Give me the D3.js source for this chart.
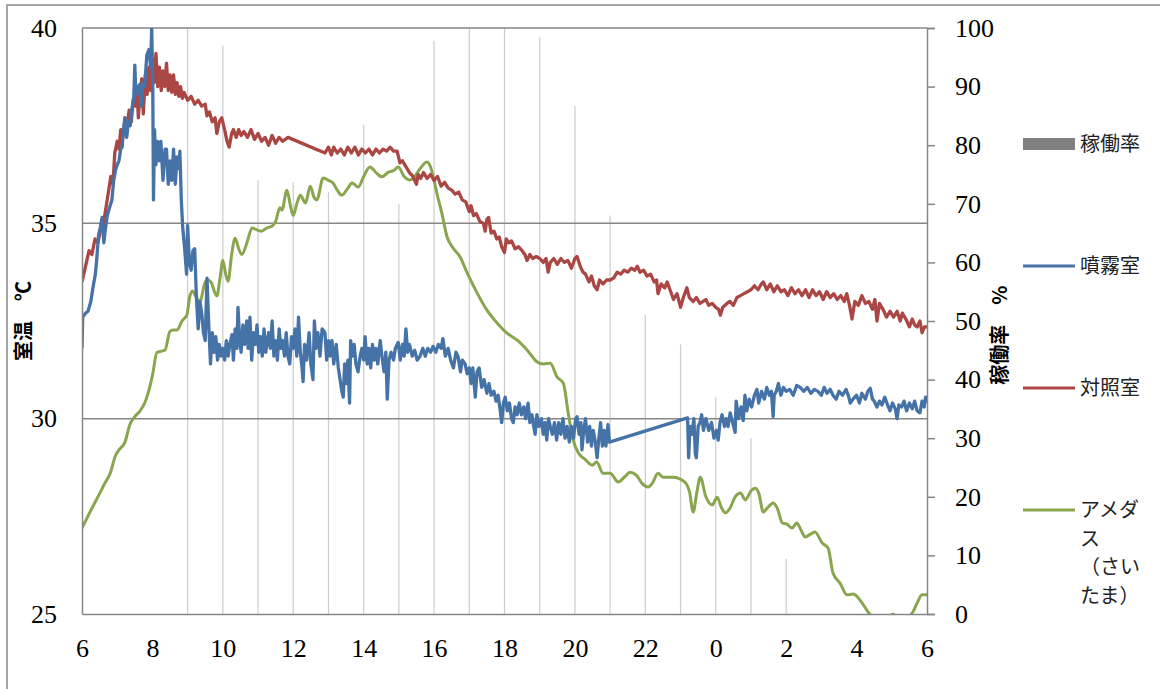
<!DOCTYPE html>
<html>
<head>
<meta charset="utf-8">
<script src="https://cdn.jsdelivr.net/npm/d3@7"></script>
<style>
  body { margin: 0; background: #fff; }
  svg { display: block; }
</style>
</head>
<body>
<svg width="1160" height="689"></svg>
<script>
// hours run 6 .. 30 (next morning 6)
var xTicks = [6, 8, 10, 12, 14, 16, 18, 20, 22, 24, 26, 28, 30];
var leftTicks = [25, 30, 35, 40];
var rightTicks = [0, 10, 20, 30, 40, 50, 60, 70, 80, 90, 100];

// 稼働率 (%) per hour
var rateHours = [9, 10, 11, 12, 13, 14, 15, 16, 17, 18, 19, 20, 21, 22, 23, 24, 25, 26];
var rateValues = [100, 97, 74, 73.7, 72, 83.5, 70, 97.8, 100, 100, 98.5, 86.7, 68, 51, 46, 37, 30, 9.4];

// 対照室 (°C)
var control = [[6.0,33.5],[6.1,33.9],[6.2,34.3],[6.28,34.2],[6.37,34.6],[6.45,34.5],[6.52,34.8],[6.6,34.95],[6.68,35.4],[6.75,35.8],[6.82,36.2],[6.88,36.0],[6.93,36.8],[7.0,37.1],[7.05,36.9],[7.1,37.4],[7.16,37.2],[7.22,37.7],[7.28,37.5],[7.34,37.9],[7.4,37.6],[7.46,38.2],[7.52,38.0],[7.56,38.5],[7.6,37.7],[7.65,38.4],[7.7,38.7],[7.74,37.8],[7.8,38.8],[7.85,38.3],[7.9,39.0],[7.95,38.4],[8.0,39.2],[8.05,38.6],[8.1,39.35],[8.15,38.5],[8.2,39.0],[8.25,38.4],[8.3,38.9],[8.35,38.5],[8.4,39.1],[8.45,38.4],[8.5,38.8],[8.55,38.35],[8.6,38.8],[8.65,38.3],[8.7,38.6],[8.75,38.25],[8.8,38.5],[8.85,38.2],[8.9,38.35],[9.0,38.15],[9.1,38.25],[9.2,38.05],[9.3,38.15],[9.4,38.0],[9.5,38.05],[9.55,37.75],[9.62,37.85],[9.7,37.6],[9.78,37.7],[9.83,37.3],[9.9,37.6],[9.97,37.7],[10.05,37.4],[10.12,37.1],[10.18,36.95],[10.25,37.3],[10.3,37.4],[10.38,37.2],[10.45,37.4],[10.52,37.25],[10.6,37.35],[10.7,37.2],[10.8,37.4],[10.9,37.15],[11.0,37.3],[11.1,37.1],[11.2,37.2],[11.3,37.0],[11.4,37.25],[11.5,37.05],[11.6,37.2],[11.7,37.1],[11.85,37.2],
  [12.9,36.8],[13.0,36.95],[13.08,36.75],[13.15,36.95],[13.25,36.8],[13.35,36.9],[13.45,36.75],[13.55,36.95],[13.65,36.8],[13.75,36.95],[13.85,36.75],[13.95,36.9],[14.05,36.8],[14.15,36.9],[14.25,36.75],[14.35,36.9],[14.45,36.8],[14.55,36.9],[14.65,36.85],[14.75,36.95],[14.85,36.85],[14.95,36.85],[15.03,36.55],[15.1,36.6],[15.2,36.45],[15.3,36.3],[15.4,36.2],[15.5,36.0],[15.55,36.25],[15.62,36.15],[15.7,36.3],[15.8,36.15],[15.9,36.25],[16.0,36.1],[16.1,36.2],[16.2,35.95],[16.3,36.05],[16.4,35.9],[16.5,35.85],[16.6,35.75],[16.7,35.8],[16.8,35.6],[16.9,35.55],[17.0,35.3],[17.05,35.45],[17.12,35.2],[17.2,35.25],[17.3,35.05],[17.4,35.0],[17.45,34.8],[17.5,35.1],[17.55,35.15],[17.62,34.75],[17.7,34.8],[17.78,34.6],[17.85,34.65],[17.92,34.4],[18.0,34.25],[18.05,34.6],[18.12,34.5],[18.2,34.55],[18.3,34.35],[18.4,34.4],[18.5,34.3],[18.58,34.2],[18.64,34.05],[18.72,34.2],[18.8,34.1],[18.9,34.15],[19.0,34.1],[19.1,34.0],[19.18,34.1],[19.24,33.75],[19.3,34.0],[19.4,34.1],[19.5,33.95],[19.6,34.1],[19.7,34.0],[19.8,34.05],[19.9,33.85],[20.0,34.1],[20.06,34.15],[20.15,33.9],[20.23,33.75],[20.3,33.7],[20.4,33.5],[20.47,33.65],[20.55,33.4],[20.63,33.3],[20.7,33.55],[20.8,33.45],[20.9,33.55],[21.0,33.55],[21.1,33.6],[21.2,33.75],[21.3,33.7],[21.4,33.8],[21.5,33.75],[21.6,33.85],[21.7,33.8],[21.77,33.9],[21.85,33.75],[21.95,33.8],[22.05,33.65],[22.15,33.7],[22.25,33.5],[22.32,33.55],[22.36,33.2],[22.45,33.45],[22.55,33.35],[22.62,33.5],[22.7,33.3],[22.8,33.05],[22.9,33.2],[23.0,32.85],[23.08,33.1],[23.18,33.35],[23.25,33.1],[23.36,33.0],[23.45,33.1],[23.55,32.95],[23.64,33.0],[23.72,33.05],[23.8,32.9],[23.9,32.95],[24.0,32.85],[24.08,32.8],[24.13,32.65],[24.2,32.85],[24.32,32.95],[24.4,33.0],[24.5,32.9],[24.6,33.1],[24.7,33.15],[24.8,33.2],[24.9,33.25],[25.0,33.3],[25.1,33.4],[25.2,33.3],[25.3,33.45],[25.35,33.5],[25.45,33.3],[25.55,33.45],[25.65,33.25],[25.75,33.4],[25.85,33.25],[25.95,33.3],[26.05,33.15],[26.15,33.35],[26.25,33.2],[26.35,33.3],[26.45,33.15],[26.55,33.3],[26.65,33.1],[26.75,33.3],[26.85,33.15],[26.95,33.25],[27.05,33.05],[27.15,33.25],[27.25,33.1],[27.35,33.2],[27.45,33.05],[27.55,33.15],[27.65,33.0],[27.72,33.2],[27.8,32.9],[27.87,32.55],[27.95,33.0],[28.05,32.9],[28.15,33.15],[28.25,32.95],[28.35,33.0],[28.45,32.8],[28.52,33.05],[28.58,32.5],[28.65,32.95],[28.75,32.8],[28.85,32.6],[28.95,32.75],[29.05,32.6],[29.15,32.75],[29.24,32.5],[29.3,32.7],[29.4,32.55],[29.5,32.35],[29.58,32.55],[29.65,32.4],[29.72,32.35],[29.8,32.5],[29.86,32.2],[29.93,32.35],[30.0,32.35]];

// 噴霧室 (°C)
var spray = [[6.0,31.8],[6.02,32.6],[6.1,32.7],[6.17,32.75],[6.25,33.0],[6.32,33.4],[6.38,33.7],[6.42,34.1],[6.47,34.7],[6.52,34.9],[6.57,35.15],[6.62,34.5],[6.67,34.9],[6.72,35.2],[6.78,35.4],[6.85,35.6],[6.9,36.1],[6.95,36.35],[7.0,36.5],[7.05,36.6],[7.1,36.9],[7.14,36.95],[7.18,37.4],[7.22,37.7],[7.27,37.2],[7.32,37.6],[7.37,37.5],[7.42,37.95],[7.47,38.2],[7.5,39.05],[7.53,38.3],[7.58,38.4],[7.63,38.55],[7.68,38.0],[7.73,38.6],[7.78,38.5],[7.84,39.3],[7.9,39.45],[7.95,39.0],[7.98,40.0],[8.01,38.5],[8.03,35.6],[8.06,37.4],[8.1,36.5],[8.15,37.1],[8.2,36.6],[8.24,37.1],[8.3,36.1],[8.36,36.9],[8.4,36.9],[8.45,36.0],[8.5,36.6],[8.55,36.1],[8.6,36.9],[8.65,36.0],[8.7,36.7],[8.75,36.4],[8.78,36.85],[8.82,35.6],[8.86,34.9],[8.92,34.3],[8.97,33.7],[9.0,34.95],[9.05,34.0],[9.1,33.8],[9.15,34.3],[9.2,34.35],[9.25,33.1],[9.3,32.3],[9.35,33.0],[9.4,32.7],[9.45,32.2],[9.5,32.0],[9.55,33.6],[9.6,32.4],[9.65,31.4],[9.7,32.2],[9.75,31.7],[9.8,32.1],[9.85,31.5],[9.9,31.9],[9.95,31.6],[10.0,31.8],[10.05,31.5],[10.1,32.0],[10.15,31.6],[10.2,31.9],[10.26,32.15],[10.3,31.5],[10.35,32.3],[10.4,31.8],[10.43,32.85],[10.48,32.0],[10.52,31.7],[10.57,32.4],[10.62,31.9],[10.68,32.5],[10.72,31.8],[10.77,32.6],[10.82,31.5],[10.87,32.2],[10.92,31.9],[10.97,32.4],[11.02,31.7],[11.07,32.1],[11.12,31.6],[11.17,32.3],[11.22,31.7],[11.3,32.2],[11.35,31.8],[11.4,32.5],[11.45,31.6],[11.5,32.0],[11.55,31.5],[11.6,32.3],[11.65,31.8],[11.7,32.0],[11.75,31.6],[11.8,32.2],[11.85,31.6],[11.9,31.4],[11.95,32.1],[12.0,31.8],[12.05,32.3],[12.1,31.6],[12.15,32.6],[12.2,31.7],[12.25,31.3],[12.28,30.95],[12.32,31.9],[12.38,31.5],[12.45,32.2],[12.5,31.4],[12.56,31.0],[12.6,32.5],[12.65,31.8],[12.7,32.2],[12.76,31.6],[12.82,32.3],[12.9,32.2],[12.95,31.5],[13.0,32.0],[13.05,31.6],[13.1,32.0],[13.15,31.4],[13.22,31.9],[13.28,31.3],[13.33,31.0],[13.38,30.7],[13.42,30.55],[13.46,31.4],[13.5,30.9],[13.55,31.5],[13.6,30.4],[13.63,32.0],[13.68,31.6],[13.73,31.9],[13.78,31.4],[13.84,31.2],[13.9,31.6],[13.95,31.8],[14.0,31.5],[14.04,32.1],[14.1,31.4],[14.15,31.8],[14.2,31.3],[14.25,31.9],[14.3,31.5],[14.35,31.8],[14.4,31.4],[14.47,32.0],[14.52,31.6],[14.58,31.2],[14.63,31.7],[14.67,30.5],[14.72,31.5],[14.78,31.7],[14.85,31.5],[14.9,31.8],[14.98,31.95],[15.04,31.5],[15.1,31.9],[15.15,31.6],[15.2,32.3],[15.25,31.7],[15.3,31.9],[15.38,31.6],[15.45,31.75],[15.52,31.5],[15.6,31.6],[15.68,31.8],[15.75,31.6],[15.82,31.8],[15.9,31.7],[15.97,31.85],[16.05,31.7],[16.12,31.9],[16.2,31.8],[16.25,32.05],[16.32,31.6],[16.4,31.8],[16.47,31.5],[16.55,31.3],[16.62,31.7],[16.68,31.6],[16.75,31.2],[16.8,31.5],[16.88,31.4],[16.94,31.15],[17.0,31.3],[17.05,30.9],[17.1,31.3],[17.17,30.55],[17.22,31.2],[17.28,31.3],[17.35,30.8],[17.42,31.0],[17.5,30.65],[17.56,30.9],[17.62,30.6],[17.7,30.7],[17.76,30.45],[17.82,30.6],[17.88,30.2],[17.92,29.9],[17.97,30.4],[18.02,30.55],[18.08,30.2],[18.14,30.4],[18.2,30.0],[18.25,29.9],[18.3,30.3],[18.36,30.1],[18.42,30.4],[18.48,30.1],[18.55,30.3],[18.6,30.0],[18.67,30.4],[18.72,29.9],[18.78,30.1],[18.83,29.8],[18.87,29.6],[18.92,30.1],[18.98,29.8],[19.05,30.0],[19.1,29.6],[19.15,29.9],[19.2,29.45],[19.25,30.0],[19.3,29.8],[19.36,29.6],[19.42,29.9],[19.48,29.45],[19.54,29.9],[19.6,29.6],[19.66,30.0],[19.72,29.5],[19.78,29.8],[19.84,29.4],[19.9,29.8],[19.96,29.5],[20.02,30.0],[20.06,30.05],[20.12,29.6],[20.17,29.9],[20.2,29.2],[20.25,29.7],[20.3,30.0],[20.36,29.4],[20.42,29.8],[20.47,29.3],[20.52,29.7],[20.58,29.4],[20.63,29.0],[20.68,29.5],[20.73,29.9],[20.78,29.3],[20.83,29.7],[20.88,29.3],[20.94,29.85],[20.98,29.4],
  [23.2,30.02],[23.23,29.0],[23.27,29.8],[23.32,29.6],[23.38,30.0],[23.42,29.1],[23.45,29.0],[23.5,29.8],[23.55,29.9],[23.6,30.1],[23.65,29.7],[23.72,30.0],[23.8,29.7],[23.88,29.9],[23.95,29.5],[24.02,29.7],[24.07,29.45],[24.12,29.9],[24.18,30.1],[24.25,29.8],[24.3,30.0],[24.35,29.8],[24.41,30.15],[24.48,29.9],[24.55,29.65],[24.58,30.45],[24.65,30.0],[24.72,30.3],[24.78,29.95],[24.83,30.6],[24.88,30.2],[24.95,30.5],[25.02,30.3],[25.1,30.6],[25.17,30.75],[25.22,30.4],[25.3,30.7],[25.38,30.5],[25.45,30.8],[25.52,30.6],[25.58,30.7],[25.63,30.05],[25.66,30.6],[25.72,30.7],[25.78,30.9],[25.85,30.6],[25.92,30.8],[26.0,30.7],[26.1,30.75],[26.2,30.6],[26.3,30.85],[26.4,30.8],[26.5,30.7],[26.6,30.8],[26.7,30.65],[26.8,30.75],[26.9,30.7],[27.0,30.6],[27.08,30.8],[27.16,30.65],[27.25,30.75],[27.33,30.6],[27.42,30.5],[27.5,30.7],[27.6,30.6],[27.7,30.75],[27.78,30.55],[27.82,30.4],[27.9,30.5],[28.0,30.6],[28.08,30.4],[28.15,30.65],[28.25,30.5],[28.32,30.7],[28.39,30.78],[28.45,30.5],[28.5,30.45],[28.58,30.3],[28.65,30.45],[28.72,30.35],[28.8,30.55],[28.88,30.35],[28.95,30.2],[29.02,30.4],[29.1,30.25],[29.15,30.0],[29.2,30.35],[29.28,30.3],[29.35,30.45],[29.42,30.2],[29.5,30.4],[29.58,30.25],[29.65,30.45],[29.72,30.2],[29.8,30.15],[29.86,30.45],[29.92,30.3],[29.96,30.55],[30.0,30.4]];

// アメダス（さいたま） (°C)
var amedas = [[6.0,27.2],[6.25,27.65],[6.51,28.1],[6.65,28.35],[6.8,28.6],[6.95,29.05],[7.05,29.2],[7.22,29.4],[7.36,29.85],[7.5,30.05],[7.65,30.2],[7.78,30.4],[7.88,30.66],[8.0,31.1],[8.13,31.7],[8.22,31.72],[8.36,31.76],[8.5,32.24],[8.6,32.27],[8.7,32.27],[8.84,32.5],[8.98,32.66],[9.07,33.16],[9.15,33.27],[9.22,33.15],[9.35,33.0],[9.5,33.5],[9.58,33.55],[9.66,33.5],[9.83,33.14],[9.92,33.6],[10.0,34.05],[10.08,33.7],[10.15,33.52],[10.25,34.2],[10.35,34.62],[10.45,34.35],[10.54,34.2],[10.7,34.55],[10.83,34.88],[11.0,34.82],[11.1,34.8],[11.25,34.88],[11.4,34.93],[11.5,35.05],[11.62,35.4],[11.68,35.34],[11.82,35.85],[11.92,35.45],[12.0,35.2],[12.1,35.5],[12.2,35.72],[12.35,35.52],[12.48,35.95],[12.6,35.65],[12.67,35.6],[12.85,36.16],[13.0,36.1],[13.13,36.03],[13.25,35.85],[13.38,35.72],[13.55,35.9],[13.67,36.03],[13.85,35.93],[14.0,36.2],[14.18,36.44],[14.35,36.3],[14.52,36.19],[14.7,36.31],[14.85,36.35],[14.98,36.44],[15.15,36.2],[15.32,36.11],[15.45,36.2],[15.6,36.4],[15.8,36.57],[15.9,36.44],[16.0,36.1],[16.08,35.77],[16.22,35.26],[16.37,34.65],[16.54,34.37],[16.74,34.14],[16.94,33.73],[17.22,33.22],[17.5,32.78],[17.79,32.45],[18.07,32.19],[18.36,32.01],[18.64,31.76],[18.93,31.45],[19.1,31.4],[19.3,31.42],[19.49,31.07],[19.67,30.91],[19.81,30.14],[19.95,29.45],[20.1,29.12],[20.3,28.95],[20.49,28.81],[20.62,28.89],[20.8,28.6],[21.0,28.6],[21.23,28.38],[21.4,28.5],[21.57,28.63],[21.75,28.55],[21.9,28.35],[22.08,28.25],[22.2,28.35],[22.36,28.6],[22.5,28.5],[22.8,28.5],[23.0,28.45],[23.15,28.35],[23.25,28.15],[23.36,27.61],[23.46,28.1],[23.56,28.5],[23.72,28.0],[23.9,27.79],[24.04,27.99],[24.15,27.75],[24.27,27.59],[24.4,27.7],[24.55,28.0],[24.7,28.1],[24.84,27.92],[25.0,28.15],[25.12,28.22],[25.22,28.1],[25.35,27.61],[25.5,27.75],[25.63,27.84],[25.75,27.7],[25.89,27.33],[26.02,27.3],[26.17,27.2],[26.3,27.33],[26.42,27.15],[26.54,26.97],[26.7,27.05],[26.82,27.1],[27.02,26.82],[27.19,26.69],[27.33,26.05],[27.53,25.79],[27.73,25.49],[27.9,25.51],[28.16,25.28],[28.33,25.05],[28.47,24.9],[28.65,24.7],[28.85,24.85],[29.04,25.0],[29.2,24.8],[29.45,24.9],[29.6,25.05],[29.72,25.28],[29.86,25.49],[30.0,25.49]];

var svg = d3.select("svg");

var margin = {top: 28, left: 82},
    width = 927 - 82,
    height = 614 - 28;

var x = d3.scaleLinear().domain([6, 30]).range([0, width]);
var yL = d3.scaleLinear().domain([25, 40]).range([height, 0]);
var yR = d3.scaleLinear().domain([0, 100]).range([height, 0]);

var axisGray = "#868686";
var numFont = "'Liberation Serif', 'Times New Roman', serif";
var jpFont = "'Noto Sans CJK JP', 'Noto Sans', sans-serif";

//outer chart frame (runs past the picture on the right and bottom)
svg.append("rect")
    .attr("x", 7).attr("y", 5)
    .attr("width", 1200).attr("height", 720)
    .attr("fill", "none")
    .attr("stroke", "#a6a6a6")
    .attr("stroke-width", 2);

var g = svg.append("g")
    .attr("transform", "translate(" + margin.left + "," + margin.top + ")");

g.append("clipPath").attr("id", "plot")
    .append("rect").attr("width", width).attr("height", height);

//稼働率 bars, thin because the data are per-minute categories
g.selectAll(".bar")
    .data(rateHours)
    .enter().append("rect")
    .attr("class", "bar")
    .attr("x", function(d) { return x(d) - 0.6; })
    .attr("y", function(d, i) { return yR(rateValues[i]); })
    .attr("width", 1.2)
    .attr("height", function(d, i) { return height - yR(rateValues[i]); })
    .attr("fill", "#cccccc");

//horizontal gridlines at 30 and 35, plus the top edge
g.selectAll(".grid")
    .data([30, 35, 40])
    .enter().append("line")
    .attr("x1", 0).attr("x2", width)
    .attr("y1", function(d) { return yL(d); })
    .attr("y2", function(d) { return yL(d); })
    .attr("stroke", axisGray)
    .attr("stroke-width", 1.5);

var line = d3.line()
    .x(function(d) { return x(d[0]); })
    .y(function(d) { return yL(d[1]); });

var smooth = d3.line()
    .curve(d3.curveMonotoneX)
    .x(function(d) { return x(d[0]); })
    .y(function(d) { return yL(d[1]); });

var lines = g.append("g").attr("clip-path", "url(#plot)");

lines.append("path").datum(amedas)
    .attr("d", smooth)
    .attr("fill", "none")
    .attr("stroke", "#89A54E")
    .attr("stroke-width", 3);

lines.append("path").datum(control)
    .attr("d", line)
    .attr("fill", "none")
    .attr("stroke", "#AA4643")
    .attr("stroke-width", 3.3)
    .attr("stroke-linejoin", "round");

lines.append("path").datum(spray)
    .attr("d", line)
    .attr("fill", "none")
    .attr("stroke", "#4572A7")
    .attr("stroke-width", 3.3)
    .attr("stroke-linejoin", "round");

//axes
var left = g.append("g")
    .call(d3.axisLeft(yL).tickValues(leftTicks).tickSize(0).tickPadding(25));

var right = g.append("g")
    .attr("transform", "translate(" + width + ",0)")
    .call(d3.axisRight(yR).tickValues(rightTicks).tickSize(8).tickPadding(20));

var bottom = g.append("g")
    .attr("transform", "translate(0," + height + ")")
    .call(d3.axisBottom(x).tickValues(xTicks).tickSize(0).tickPadding(25)
          .tickFormat(function(d) { return d % 24; }));

[left, right, bottom].forEach(function(a) {
    a.select(".domain").attr("stroke", axisGray).attr("stroke-width", 1.5);
    a.selectAll(".tick line").attr("stroke", axisGray).attr("stroke-width", 1.5);
    a.selectAll("text")
	.attr("font-family", numFont)
	.attr("font-size", 26)
	.attr("fill", "#000");
});

//axis titles
svg.append("text")
    .attr("transform", "translate(31,321) rotate(-90)")
    .attr("text-anchor", "middle")
    .attr("font-family", jpFont)
    .attr("font-weight", "bold")
    .attr("font-size", 20)
    .text("室温　℃");

svg.append("text")
    .attr("transform", "translate(1007,335) rotate(-90)")
    .attr("text-anchor", "middle")
    .attr("font-family", jpFont)
    .attr("font-weight", "bold")
    .attr("font-size", 20)
    .text("稼働率　%");

//legend
var legend = svg.append("g").attr("font-family", jpFont).attr("font-size", 20);

legend.append("rect")
    .attr("x", 1023).attr("y", 138)
    .attr("width", 52).attr("height", 12)
    .attr("fill", "#808080");

var legendItems = [
    {y: 266, color: "#4572A7", lines: ["噴霧室"]},
    {y: 388, color: "#AA4643", lines: ["対照室"]},
    {y: 510, color: "#89A54E", lines: ["アメダ", "ス", "（さい", "たま）"]}
];

legend.append("text")
    .attr("x", 1080).attr("y", 151)
    .attr("fill", "#222")
    .text("稼働率");

legendItems.forEach(function(it) {
    legend.append("line")
	.attr("x1", 1023).attr("x2", 1075)
	.attr("y1", it.y).attr("y2", it.y)
	.attr("stroke", it.color)
	.attr("stroke-width", 3);
    it.lines.forEach(function(t, i) {
	legend.append("text")
	    .attr("x", 1080)
	    .attr("y", it.y + 7 + i * 28.5)
	    .attr("fill", "#222")
	    .text(t);
    });
});
</script>
</body>
</html>
